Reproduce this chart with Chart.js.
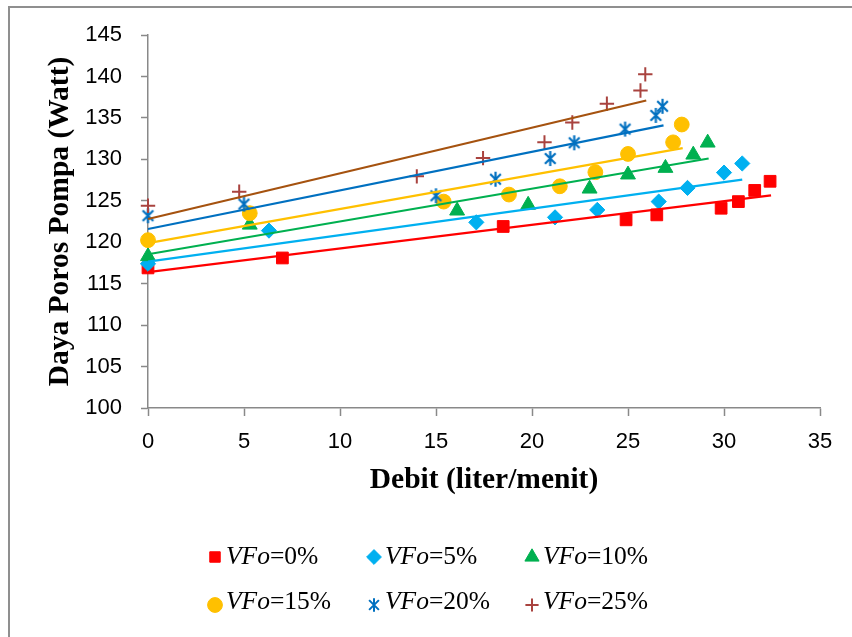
<!DOCTYPE html>
<html>
<head>
<meta charset="utf-8">
<script src="https://cdn.jsdelivr.net/npm/chart.js@4/dist/chart.umd.min.js"></script>
<style>
  html, body { margin: 0; padding: 0; background: #fff; overflow: hidden; }
  #wrap { position: relative; width: 852px; height: 637px; overflow: hidden; }
  #frame { position: absolute; left: 8px; top: 6px; width: 900px; height: 700px;
           border: 2px solid #8f8f8f; box-sizing: border-box; }
  #chart { position: absolute; left: 0; top: 0; }
  .lg-mark { position: absolute; width: 20px; height: 20px; }
  .lg-text { position: absolute; font-family: "Liberation Serif", "Times New Roman", serif;
             font-size: 25.5px; line-height: 30px; color: #000; white-space: nowrap; }
  .lg-text i { font-style: italic; }
</style>
</head>
<body>
<div id="wrap">
  <div id="frame"></div>
  <canvas id="chart" width="852" height="637"></canvas>
  <div id="legend"></div>
</div>
<script>
// Measured pump shaft power (Watt) against flow rate (liter/menit) per VFo fraction
const seriesLabels = ['0%', '5%', '10%', '15%', '20%', '25%'];

const debitVF0  = [0, 7.0, 18.5, 24.9, 26.5, 29.85, 30.75, 31.6, 32.4];
const dayaVF0   = [116.9, 118.1, 121.9, 122.7, 123.3, 124.1, 124.9, 126.25, 127.35];
const debitVF5  = [0, 6.3, 17.1, 21.2, 23.4, 26.6, 28.1, 30.0, 30.95];
const dayaVF5   = [117.4, 121.4, 122.4, 123.0, 123.9, 124.9, 126.55, 128.4, 129.5];
const debitVF10 = [0, 5.3, 16.1, 19.8, 23.0, 25.0, 26.95, 28.4, 29.15];
const dayaVF10  = [118.3, 122.1, 123.8, 124.5, 126.45, 128.15, 128.95, 130.55, 132.0];
const debitVF15 = [0, 5.3, 15.4, 18.8, 21.45, 23.3, 25.0, 27.35, 27.8];
const dayaVF15  = [120.25, 123.5, 124.9, 125.75, 126.75, 128.45, 130.65, 132.05, 134.2];
const debitVF20 = [0, 5.0, 15.0, 18.1, 20.95, 22.2, 24.85, 26.45, 26.8];
const dayaVF20  = [123.2, 124.6, 125.6, 127.6, 130.1, 132.0, 133.65, 135.3, 136.4];
const debitVF25 = [0, 4.75, 14.0, 17.45, 20.65, 22.1, 23.9, 25.65, 25.9];
const dayaVF25  = [124.4, 126.1, 127.95, 130.15, 132.05, 134.45, 136.7, 138.3, 140.25];

// Linear trendline end points for each series
const trendDebitVF0  = [0, 32.45];  const trendDayaVF0  = [116.4, 125.65];
const trendDebitVF5  = [0, 30.95];  const trendDayaVF5  = [117.65, 127.55];
const trendDebitVF10 = [0, 29.2];   const trendDayaVF10 = [118.55, 130.1];
const trendDebitVF15 = [0, 27.85];  const trendDayaVF15 = [119.9, 131.35];
const trendDebitVF20 = [0, 26.85];  const trendDayaVF20 = [121.6, 134.1];
const trendDebitVF25 = [0, 25.95];  const trendDayaVF25 = [122.8, 137.1];

const xTicks = [0, 5, 10, 15, 20, 25, 30, 35];
const yTicks = [100, 105, 110, 115, 120, 125, 130, 135, 140, 145];

// Star marker: an X crossed by a vertical bar
function makeAsterisk(color, r, lw) {
  const size = Math.ceil(2 * r + lw + 2);
  const c = document.createElement('canvas');
  c.width = size; c.height = size;
  const g = c.getContext('2d');
  const m = size / 2;
  const d = r * 0.72;
  g.strokeStyle = color; g.lineWidth = lw; g.lineCap = 'butt';
  g.beginPath();
  g.moveTo(m, m - r); g.lineTo(m, m + r);
  g.moveTo(m - d, m - d); g.lineTo(m + d, m + d);
  g.moveTo(m - d, m + d); g.lineTo(m + d, m - d);
  g.stroke();
  return c;
}

const pts = (xs, ys) => xs.map((x, i) => ({ x: x, y: ys[i] }));

const markerDefs = [
  { x: debitVF0,  y: dayaVF0,  color: '#FF0000', style: 'rect',     r: 8.3, bw: 1 },
  { x: debitVF5,  y: dayaVF5,  color: '#00B0F0', style: 'rectRot',  r: 7.6, bw: 1 },
  { x: debitVF10, y: dayaVF10, color: '#00B050', style: 'triangle', r: 8.6, bw: 1 },
  { x: debitVF15, y: dayaVF15, color: '#FFC000', style: 'circle',   r: 7.4, bw: 1 },
  { x: debitVF20, y: dayaVF20, color: '#0070C0', style: makeAsterisk('#0070C0', 7.4, 2.2), r: 7.5, bw: 0 },
  { x: debitVF25, y: dayaVF25, color: '#A9433F', style: 'cross',    r: 7.2, bw: 2 }
];
const trendDefs = [
  { x: trendDebitVF0,  y: trendDayaVF0,  color: '#FF0000' },
  { x: trendDebitVF5,  y: trendDayaVF5,  color: '#00B0F0' },
  { x: trendDebitVF10, y: trendDayaVF10, color: '#00B050' },
  { x: trendDebitVF15, y: trendDayaVF15, color: '#FFC000' },
  { x: trendDebitVF20, y: trendDayaVF20, color: '#0070C0' },
  { x: trendDebitVF25, y: trendDayaVF25, color: '#A5520F' }
];

const datasets = [];
markerDefs.forEach(function (d, i) {
  datasets.push({
    label: 'VFo=' + seriesLabels[i],
    data: pts(d.x, d.y),
    showLine: false,
    pointStyle: d.style,
    pointRadius: d.r,
    pointHoverRadius: d.r,
    pointBackgroundColor: d.color,
    pointBorderColor: d.color,
    pointBorderWidth: d.bw,
    backgroundColor: d.color,
    borderColor: d.color,
    clip: false,
    order: 20 - i
  });
});
trendDefs.forEach(function (d, i) {
  datasets.push({
    label: 'trend ' + seriesLabels[i],
    data: pts(d.x, d.y),
    showLine: true,
    borderColor: d.color,
    borderWidth: 2.2,
    pointRadius: 0,
    pointHoverRadius: 0,
    clip: false,
    order: 6 - i
  });
});

const axisGray = '#898989';
const tickFont = { family: '"Liberation Sans", Arial, sans-serif', size: 22 };
const titleFont = { family: '"Liberation Serif", "Times New Roman", serif', size: 29.5, weight: 'bold' };

const chart = new Chart(document.getElementById('chart'), {
  type: 'scatter',
  data: { datasets: datasets },
  options: {
    responsive: false,
    devicePixelRatio: 1,
    animation: false,
    events: [],
    layout: { padding: { left: 0, top: 35, right: 32, bottom: 129 } },
    plugins: { legend: { display: false }, tooltip: { enabled: false } },
    scales: {
      x: {
        type: 'linear',
        min: xTicks[0], max: xTicks[xTicks.length - 1],
        afterBuildTicks: s => { s.ticks = xTicks.map(v => ({ value: v })); },
        afterFit: s => { s.height = 100; },
        ticks: { font: tickFont, color: '#000', padding: 13 },
        grid: { drawOnChartArea: false, drawTicks: true, tickLength: 8, tickColor: axisGray, tickWidth: 1.5 },
        border: { display: true, color: axisGray, width: 1.5 },
        title: { display: true, text: 'Debit (liter/menit)', font: titleFont, color: '#000',
                 padding: { top: 0, bottom: 10 } }
      },
      y: {
        type: 'linear',
        min: yTicks[0], max: yTicks[yTicks.length - 1],
        afterBuildTicks: s => { s.ticks = yTicks.map(v => ({ value: v })); },
        afterFit: s => { s.width = 148; },
        ticks: { font: tickFont, color: '#000', padding: 19 },
        grid: { drawOnChartArea: false, drawTicks: true, tickLength: 7, tickColor: axisGray, tickWidth: 1.5 },
        border: { display: true, color: axisGray, width: 1.5 },
        title: { display: true, text: 'Daya Poros Pompa (Watt)', font: titleFont, color: '#000',
                 padding: { top: 43, bottom: 0 } }
      }
    }
  }
});

// Two-row legend below the plot, markers drawn with the chart's own point renderer
const legendEl = document.getElementById('legend');
const legendCols = [215, 374, 532];
const legendRows = [{ mark: 557, base: 564.5 }, { mark: 604.5, base: 609.5 }];
const legendRadius = [7.4, 7.4, 8.2, 7.4, 6.8, 6.6];
markerDefs.forEach(function (d, i) {
  const col = i % 3, row = Math.floor(i / 3);
  const mx = legendCols[col], my = legendRows[row].mark;
  const c = document.createElement('canvas');
  c.width = 20; c.height = 20; c.className = 'lg-mark';
  c.style.left = (mx - 10) + 'px'; c.style.top = (my - 10) + 'px';
  const g = c.getContext('2d');
  g.fillStyle = d.color; g.strokeStyle = d.color; g.lineWidth = d.bw;
  let style = d.style;
  if (typeof style !== 'string') style = makeAsterisk(d.color, legendRadius[i], 2);
  Chart.helpers.drawPoint(g, { pointStyle: style, radius: legendRadius[i], borderWidth: d.bw, rotation: 0 }, 10, 10);
  legendEl.appendChild(c);
  const t = document.createElement('div');
  t.className = 'lg-text';
  t.style.left = (mx + 11) + 'px';
  t.style.top = (legendRows[row].base - 23.6) + 'px';
  const it = document.createElement('i');
  it.textContent = 'VFo';
  t.appendChild(it);
  t.appendChild(document.createTextNode('=' + seriesLabels[i]));
  legendEl.appendChild(t);
});
</script>
</body>
</html>
